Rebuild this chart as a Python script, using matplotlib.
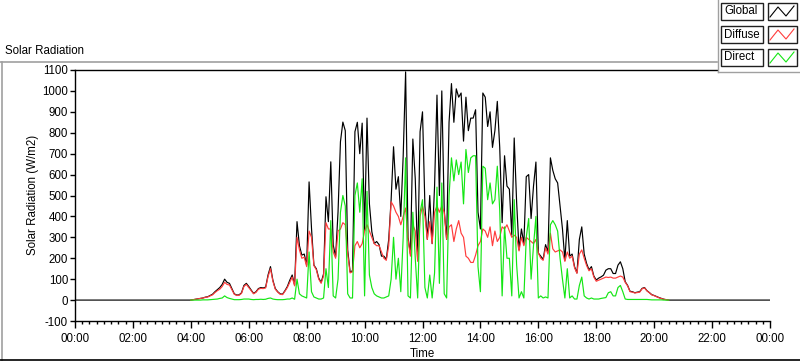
import numpy as np
import matplotlib
matplotlib.use("Agg")
import matplotlib.pyplot as plt
from matplotlib.patches import Rectangle
from matplotlib.lines import Line2D
from matplotlib.ticker import MultipleLocator, FixedLocator

plt.rcParams['font.family'] = ['Liberation Sans', 'DejaVu Sans']

# ---------------- data (5-minute samples, 04:00 .. 20:30) ----------------
step_min = 5
day_start_hour = 4

global_rows = [
    [0, 2, 4, 6, 8, 10, 14, 16, 22, 28, 40, 50],                       # 04
    [60, 75, 100, 85, 80, 55, 30, 24, 25, 35, 70, 80],                  # 05
    [65, 48, 32, 40, 55, 60, 58, 62, 120, 160, 95, 55],                 # 06
    [40, 30, 28, 45, 65, 95, 120, 72, 375, 260, 215, 220],              # 07
    [167, 565, 344, 167, 150, 105, 85, 125, 494, 375, 661, 263],        # 08
    [208, 422, 757, 851, 810, 240, 135, 140, 805, 850, 700, 846],       # 09
    [330, 870, 460, 327, 270, 280, 265, 210, 210, 195, 290, 480],       # 10
    [733, 530, 590, 400, 690, 1091, 300, 220, 770, 580, 190, 805],      # 11
    [900, 450, 290, 500, 270, 545, 980, 500, 1000, 430, 290, 850],      # 12
    [1035, 850, 1010, 970, 990, 760, 970, 810, 870, 870, 910, 420],     # 13
    [340, 990, 970, 830, 900, 730, 810, 950, 730, 370, 690, 545],       # 14
    [530, 310, 775, 470, 240, 340, 270, 590, 600, 390, 545, 660],       # 15
    [225, 210, 195, 265, 230, 680, 620, 580, 560, 450, 340, 190],       # 16
    [380, 210, 220, 160, 130, 290, 350, 220, 175, 145, 160, 115],       # 17
    [96, 105, 111, 119, 143, 150, 150, 127, 127, 167, 183, 150],        # 18
    [88, 70, 42, 40, 35, 38, 40, 56, 60, 45, 36, 26],                   # 19
    [22, 17, 12, 8, 4, 2, 0],                                           # 20
]

diffuse_rows = [
    [0, 2, 4, 6, 8, 10, 13, 15, 20, 25, 36, 45],
    [52, 65, 85, 75, 72, 50, 28, 22, 23, 32, 65, 75],
    [60, 45, 30, 37, 52, 56, 55, 58, 112, 150, 90, 52],
    [38, 28, 26, 42, 60, 85, 110, 68, 300, 240, 200, 205],
    [160, 330, 300, 165, 145, 100, 80, 115, 370, 340, 340, 230],
    [200, 330, 340, 370, 360, 220, 130, 135, 260, 280, 250, 270],
    [330, 360, 330, 300, 270, 260, 260, 230, 200, 190, 260, 470],
    [450, 420, 400, 360, 400, 440, 290, 210, 360, 330, 185, 400],
    [450, 400, 290, 375, 270, 420, 450, 420, 450, 420, 290, 350],
    [360, 280, 340, 380, 320, 300, 210, 200, 180, 180, 215, 260],
    [280, 340, 330, 300, 350, 260, 330, 280, 300, 350, 340, 360],
    [330, 300, 310, 300, 235, 300, 260, 300, 290, 280, 270, 290],
    [225, 200, 190, 250, 220, 320, 245, 230, 235, 240, 230, 185],
    [230, 200, 210, 155, 128, 220, 240, 200, 165, 140, 150, 110],
    [90, 95, 100, 105, 110, 108, 110, 105, 105, 110, 115, 110],
    [85, 68, 40, 38, 34, 36, 38, 54, 58, 44, 35, 25],
    [21, 16, 11, 7, 4, 2, 0],
]

direct_rows = [
    [0, 0, 0, 0, 0, 1, 1, 1, 2, 3, 4, 5],
    [8, 10, 20, 12, 8, 5, 2, 2, 2, 3, 5, 5],
    [5, 3, 2, 3, 3, 4, 3, 4, 8, 10, 5, 3],
    [2, 2, 2, 3, 5, 5, 10, 4, 100, 30, 20, 15],
    [10, 230, 40, 15, 10, 5, 5, 10, 150, 60, 380, 20],
    [10, 100, 420, 500, 450, 30, 10, 10, 500, 560, 420, 580],
    [20, 520, 120, 60, 30, 20, 15, 10, 10, 15, 20, 100],
    [300, 100, 200, 40, 300, 680, 20, 10, 420, 200, 10, 420],
    [480, 60, 10, 120, 10, 130, 540, 80, 560, 30, 10, 500],
    [680, 570, 670, 600, 660, 460, 720, 610, 680, 690, 690, 160],
    [40, 640, 630, 480, 560, 460, 480, 640, 430, 20, 350, 200],
    [200, 20, 480, 170, 10, 40, 10, 300, 390, 100, 260, 400],
    [10, 20, 10, 15, 10, 360, 380, 360, 330, 200, 100, 10],
    [150, 10, 20, 5, 5, 70, 110, 20, 10, 5, 10, 5],
    [5, 5, 8, 10, 12, 35, 40, 20, 20, 60, 70, 40],
    [5, 3, 3, 3, 3, 3, 3, 3, 3, 3, 2, 1],
    [1, 1, 1, 1, 0, 0, 0],
]

night_global = 0.0   # global radiation at night

x_tick_labels = ["00:00", "02:00", "04:00", "06:00", "08:00", "10:00", "12:00",
                 "14:00", "16:00", "18:00", "20:00", "22:00", "00:00"]
y_ticks = [-100, 0, 100, 200, 300, 400, 500, 600, 700, 800, 900, 1000, 1100]
series_names = ["Global", "Diffuse", "Direct"]

# ---------------- assemble full-day series ----------------
g_day = np.concatenate([np.array(r, float) for r in global_rows])
d_day = np.concatenate([np.array(r, float) for r in diffuse_rows])
s_day = np.concatenate([np.array(r, float) for r in direct_rows])

per_hour = 60 // step_min
n_full = 24 * per_hour + 1
n_before = day_start_hour * per_hour
n_after = n_full - n_before - len(g_day)
t = np.arange(n_full) * step_min / 60.0

glob = np.concatenate([np.full(n_before, night_global), g_day, np.full(n_after, night_global)])
diff = np.concatenate([np.full(n_before, np.nan), d_day, np.full(n_after, np.nan)])
dirr = np.concatenate([np.full(n_before, np.nan), s_day, np.full(n_after, np.nan)])

# ---------------- figure ----------------
W, H = 800, 361
fig = plt.figure(figsize=(W / 100, H / 100), dpi=100)
fig.patch.set_facecolor("white")

def fx(px):
    return px / W

def fy(py):
    return 1 - py / H

ax = fig.add_axes([fx(75), fy(321), fx(770) - fx(75), fy(70) - fy(321)])
ax.set_facecolor("white")

col_g, col_d, col_s = "black", "#ff3c3c", "#14e614"
ax.plot(t, glob, color=col_g, lw=0.85, zorder=3)
ax.plot(t, diff, color=col_d, lw=0.85, zorder=4)
ax.plot(t, dirr, color=col_s, lw=0.85, zorder=5)

ax.set_xlim(0, 24)
ax.set_ylim(-100, 1100)

ax.xaxis.set_major_locator(FixedLocator(np.arange(0, 25, 2)))
ax.set_xticklabels(x_tick_labels)
ax.xaxis.set_minor_locator(MultipleLocator(0.25))
ax.set_yticks(y_ticks)
ax.set_yticklabels([str(v) for v in y_ticks])

ax.tick_params(axis="x", which="major", direction="out", length=5, width=1, pad=4, labelsize=8.3, colors="black")
ax.tick_params(axis="x", which="minor", direction="out", length=2.5, width=1)
ax.tick_params(axis="y", which="major", direction="out", length=3.5, width=1, pad=1.5, labelsize=8.3, colors="black")

for side in ["left", "bottom", "top"]:
    ax.spines[side].set_color("black")
    ax.spines[side].set_linewidth(1)
ax.spines["right"].set_visible(False)

fig.text(fx(33), fy(195), "Solar Radiation (W/m2)", rotation=90, ha="center", va="center", fontsize=8.3)
fig.text(fx(422), fy(354), "Time", ha="center", va="center", fontsize=8.3)
fig.text(fx(5), fy(51), "Solar Radiation", ha="left", va="center", fontsize=8.3)

# outer frame of the graph
fig.add_artist(Line2D([fx(0), fx(717)], [fy(61.5), fy(61.5)], color="#a0a0a0", lw=1.2))
fig.add_artist(Line2D([fx(1.5), fx(1.5)], [fy(61.5), fy(361)], color="#a0a0a0", lw=1.2))
fig.add_artist(Line2D([fx(0), fx(800)], [fy(359.5), fy(359.5)], color="black", lw=1.2))

# legend panel
fig.add_artist(Line2D([fx(717.5), fx(717.5)], [fy(0), fy(72)], color="#a0a0a0", lw=1))
fig.add_artist(Line2D([fx(717.5), fx(800)], [fy(72), fy(72)], color="#a0a0a0", lw=1))
fig.add_artist(Rectangle((fx(718), fy(71.5)), fx(82), fy(0) - fy(71.5), facecolor="white", edgecolor="none", zorder=1))
for i, (name, col) in enumerate(zip(series_names, [col_g, col_d, col_s])):
    top = 3 + i * 23
    fig.add_artist(Rectangle((fx(721), fy(top + 17)), fx(42), fy(top) - fy(top + 17),
                             facecolor="white", edgecolor="#202020", lw=1, zorder=2))
    fig.add_artist(Rectangle((fx(768), fy(top + 17)), fx(29), fy(top) - fy(top + 17),
                             facecolor="white", edgecolor="#202020", lw=1, zorder=2))
    fig.text(fx(724), fy(top + 8.5), name, ha="left", va="center", fontsize=8.3, zorder=3)
    zx = [fx(770), fx(778), fx(786), fx(794)]
    zy = [fy(top + 14), fy(top + 4), fy(top + 13), fy(top + 3)]
    fig.add_artist(Line2D(zx, zy, color=col, lw=0.8, zorder=3))

fig.savefig("out.png", dpi=100, facecolor="white")
